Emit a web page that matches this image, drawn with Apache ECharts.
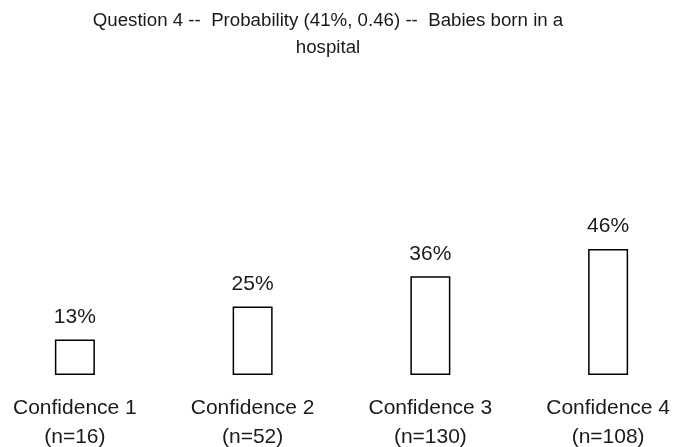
<!DOCTYPE html>
<html>
<head>
<meta charset="utf-8">
<script src="https://cdn.jsdelivr.net/npm/echarts@6/dist/echarts.min.js"></script>
<style>html,body{margin:0;padding:0;background:#fff}#c{width:677px;height:447px}</style>
</head>
<body>
<div id="c"></div>
<script>
var titleText = "Question 4 --  Probability (41%, 0.46) --  Babies born in a\nhospital";
var categories = ["Confidence 1", "Confidence 2", "Confidence 3", "Confidence 4"];
var counts = ["(n=16)", "(n=52)", "(n=130)", "(n=108)"];
var values = [13, 25, 36, 46];

var chart = echarts.init(document.getElementById('c'), null, {renderer: 'canvas'});
var FONT = 'Liberation Sans, Arial, sans-serif';
chart.setOption({
  animation: false,
  backgroundColor: '#ffffff',
  title: {
    text: titleText,
    left: 328,
    textAlign: 'center',
    top: 7,
    padding: 0,
    textStyle: {fontFamily: FONT, fontSize: 18.7, fontWeight: 'normal', color: '#1a1a1a', lineHeight: 27}
  },
  grid: {left: -14, right: -20, top: 101, bottom: 72, containLabel: false, outerBoundsMode: 'none'},
  xAxis: {
    type: 'category',
    data: categories.map(function (c, i) { return c + '\n' + counts[i]; }),
    axisLine: {show: false},
    axisTick: {show: false},
    axisLabel: {fontFamily: FONT, fontSize: 21, color: '#1a1a1a', lineHeight: 29, margin: 19, interval: 0}
  },
  yAxis: {type: 'value', min: 0, max: 100, show: false, splitLine: {show: false}},
  series: [{
    type: 'bar',
    data: values,
    barWidth: 40,
    itemStyle: {color: '#ffffff', borderColor: '#000000', borderWidth: 1.5},
    label: {
      show: true, position: 'top', distance: 12,
      formatter: function (p) { return p.value + '%'; },
      fontFamily: FONT, fontSize: 21, color: '#1a1a1a'
    }
  }]
});
</script>
</body>
</html>
